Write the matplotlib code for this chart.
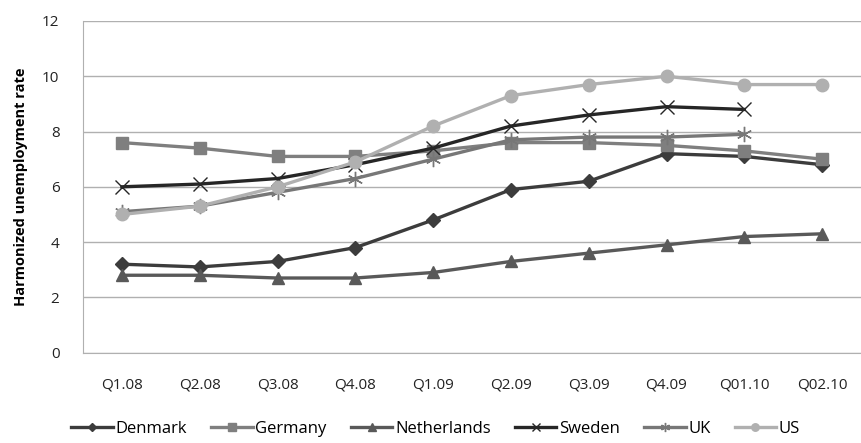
import matplotlib
matplotlib.use("Agg")
import matplotlib.pyplot as plt
import numpy as np

quarters = ["Q1.08", "Q2.08", "Q3.08", "Q4.08", "Q1.09", "Q2.09", "Q3.09", "Q4.09", "Q01.10", "Q02.10"]
denmark = [3.2, 3.1, 3.3, 3.8, 4.8, 5.9, 6.2, 7.2, 7.1, 6.8]
germany = [7.6, 7.4, 7.1, 7.1, 7.3, 7.6, 7.6, 7.5, 7.3, 7.0]
netherlands = [2.8, 2.8, 2.7, 2.7, 2.9, 3.3, 3.6, 3.9, 4.2, 4.3]
sweden = [6.0, 6.1, 6.3, 6.8, 7.4, 8.2, 8.6, 8.9, 8.8, np.nan]
uk = [5.1, 5.3, 5.8, 6.3, 7.0, 7.7, 7.8, 7.8, 7.9, np.nan]
us = [5.0, 5.3, 6.0, 6.9, 8.2, 9.3, 9.7, 10.0, 9.7, 9.7]

series = [
    ("Denmark", denmark, "#3c3c3c", "D", 7),
    ("Germany", germany, "#7f7f7f", "s", 9),
    ("Netherlands", netherlands, "#595959", "^", 9),
    ("Sweden", sweden, "#262626", "x", 10),
    ("UK", uk, "#777777", (6, 2, 0), 11),
    ("US", us, "#b0b0b0", "o", 9),
]

plt.rcParams['font.family'] = ['Open Sans', 'DejaVu Sans']
fig = plt.figure(figsize=(8.61, 4.43), dpi=100)
ax = fig.add_axes([0.0964, 0.204, 0.9036, 0.7486])
x = np.arange(len(quarters))
for name, vals, col, mk, ms in series:
    if mk in ("x",) or isinstance(mk, tuple):
        ax.plot(x, vals, color=col, lw=2.4, marker=mk, ms=ms, mew=1.0, mec=col, label=name)
    else:
        ax.plot(x, vals, color=col, lw=2.4, marker=mk, ms=ms, mec=col, mfc=col, label=name)

ax.set_xlim(-0.5, len(quarters) - 0.5)
ax.set_ylim(0, 12)
ax.set_yticks(range(0, 13, 2))
ax.set_xticks(x)
ax.set_xticklabels(quarters)
ax.grid(axis='y', color='#b0b0b0', lw=1)
ax.set_axisbelow(True)
for s in ['top', 'right']:
    ax.spines[s].set_visible(False)
ax.spines['left'].set_color('#b0b0b0')
ax.spines['bottom'].set_color('#b0b0b0')
ax.tick_params(length=0, labelsize=11, colors='#222222')
ax.tick_params(axis='x', pad=18)
ax.tick_params(axis='y', pad=17)
ax.set_ylabel("Harmonized unemployment rate", fontsize=10.5, fontweight='bold', labelpad=10)

leg = fig.legend(loc='lower center', bbox_to_anchor=(0.506, -0.02), ncol=6, frameon=False,
                 fontsize=12, handlelength=2.5, columnspacing=1.45, handletextpad=0.15,
                 markerscale=0.6)
fig.savefig("out.png", dpi=100)
